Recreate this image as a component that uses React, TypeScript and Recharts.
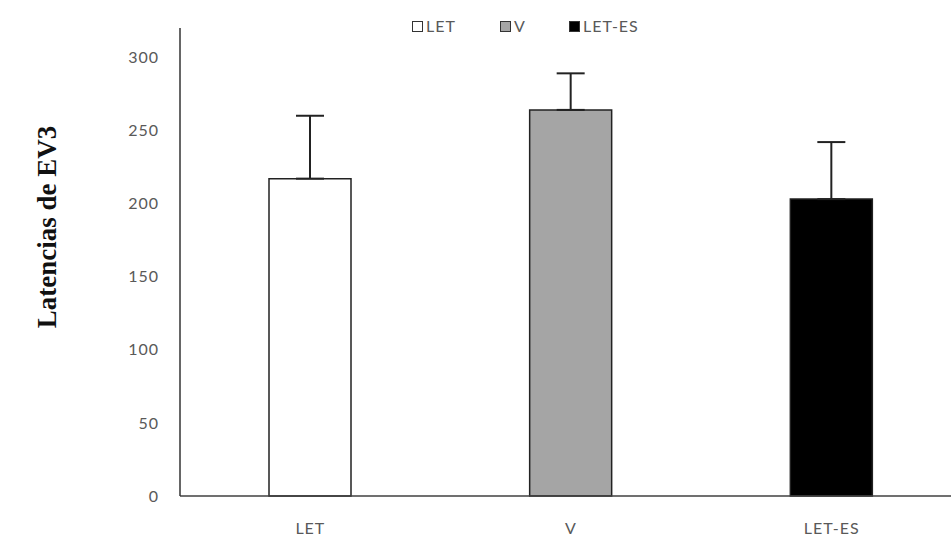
import { BarChart, Bar, Cell, XAxis, YAxis, ErrorBar, Legend } from "recharts";

const categories = ["LET", "V", "LET-ES"];
const latencies = [217, 264, 203];
const errors = [43, 25, 39];
const yTicks = [0, 50, 100, 150, 200, 250, 300];

const FILLS = ["#ffffff", "#a5a5a5", "#000000"];
const LEGEND_WIDTHS = [88, 69, 90];

const data = categories.map((name, i) => ({
  name,
  value: latencies[i],
  err: [0, errors[i]],
}));

const LegendContent = () => (
  <div
    style={{
      display: "flex",
      fontFamily: "Lato",
      fontSize: 16,
      letterSpacing: 1,
      color: "#595959",
      lineHeight: "16px",
    }}
  >
    {categories.map((c, i) => (
      <div key={c} style={{ display: "flex", alignItems: "center", width: LEGEND_WIDTHS[i] }}>
        <span
          style={{
            display: "inline-block",
            width: 9,
            height: 9,
            background: FILLS[i],
            border: "1.5px solid #333",
            marginRight: 3,
          }}
        />
        <span>{c}</span>
      </div>
    ))}
  </div>
);

const YLabel = (props: any) => {
  const { viewBox } = props;
  const x = viewBox.x - 73;
  const y = 227;
  return (
    <text
      x={x}
      y={y}
      transform={`rotate(-90, ${x}, ${y})`}
      textAnchor="middle"
      dominantBaseline="central"
      fontFamily="Liberation Serif"
      fontWeight="bold"
      fontSize={27}
      fill="#111"
    >
      Latencias de EV3
    </text>
  );
};

export default function App() {
  return (
    <div style={{ position: "absolute", left: 0, top: 0, width: 951, height: 536, overflow: "hidden", background: "#fff" }}>
      <BarChart
        width={972}
        height={536}
        data={data}
        margin={{ top: 12, right: 10, bottom: 10, left: 120 }}
      >
        <Legend
          verticalAlign="top"
          content={<LegendContent />}
          wrapperStyle={{ position: "absolute", top: 18, left: 412, width: 300, height: 16 }}
        />
        <XAxis
          dataKey="name"
          height={30}
          axisLine={{ stroke: "#404040", strokeWidth: 1.5 }}
          tickLine={false}
          tickMargin={21}
          tick={{ fill: "#595959", fontSize: 16, fontFamily: "Lato", letterSpacing: 1 }}
        />
        <YAxis
          width={60}
          domain={[0, 320]}
          ticks={yTicks}
          axisLine={{ stroke: "#333", strokeWidth: 1.5 }}
          tickLine={false}
          tickMargin={15}
          tick={{ fill: "#595959", fontSize: 16, fontFamily: "Lato", letterSpacing: 1 }}
          label={<YLabel />}
        />
        <Bar dataKey="value" barSize={82} stroke="#222" strokeWidth={1.5} isAnimationActive={false}>
          {data.map((_, i) => (
            <Cell key={`cell-${i}`} fill={FILLS[i]} />
          ))}
          <ErrorBar dataKey="err" width={14} stroke="#222" strokeWidth={2} direction="y" />
        </Bar>
      </BarChart>
    </div>
  );
}
